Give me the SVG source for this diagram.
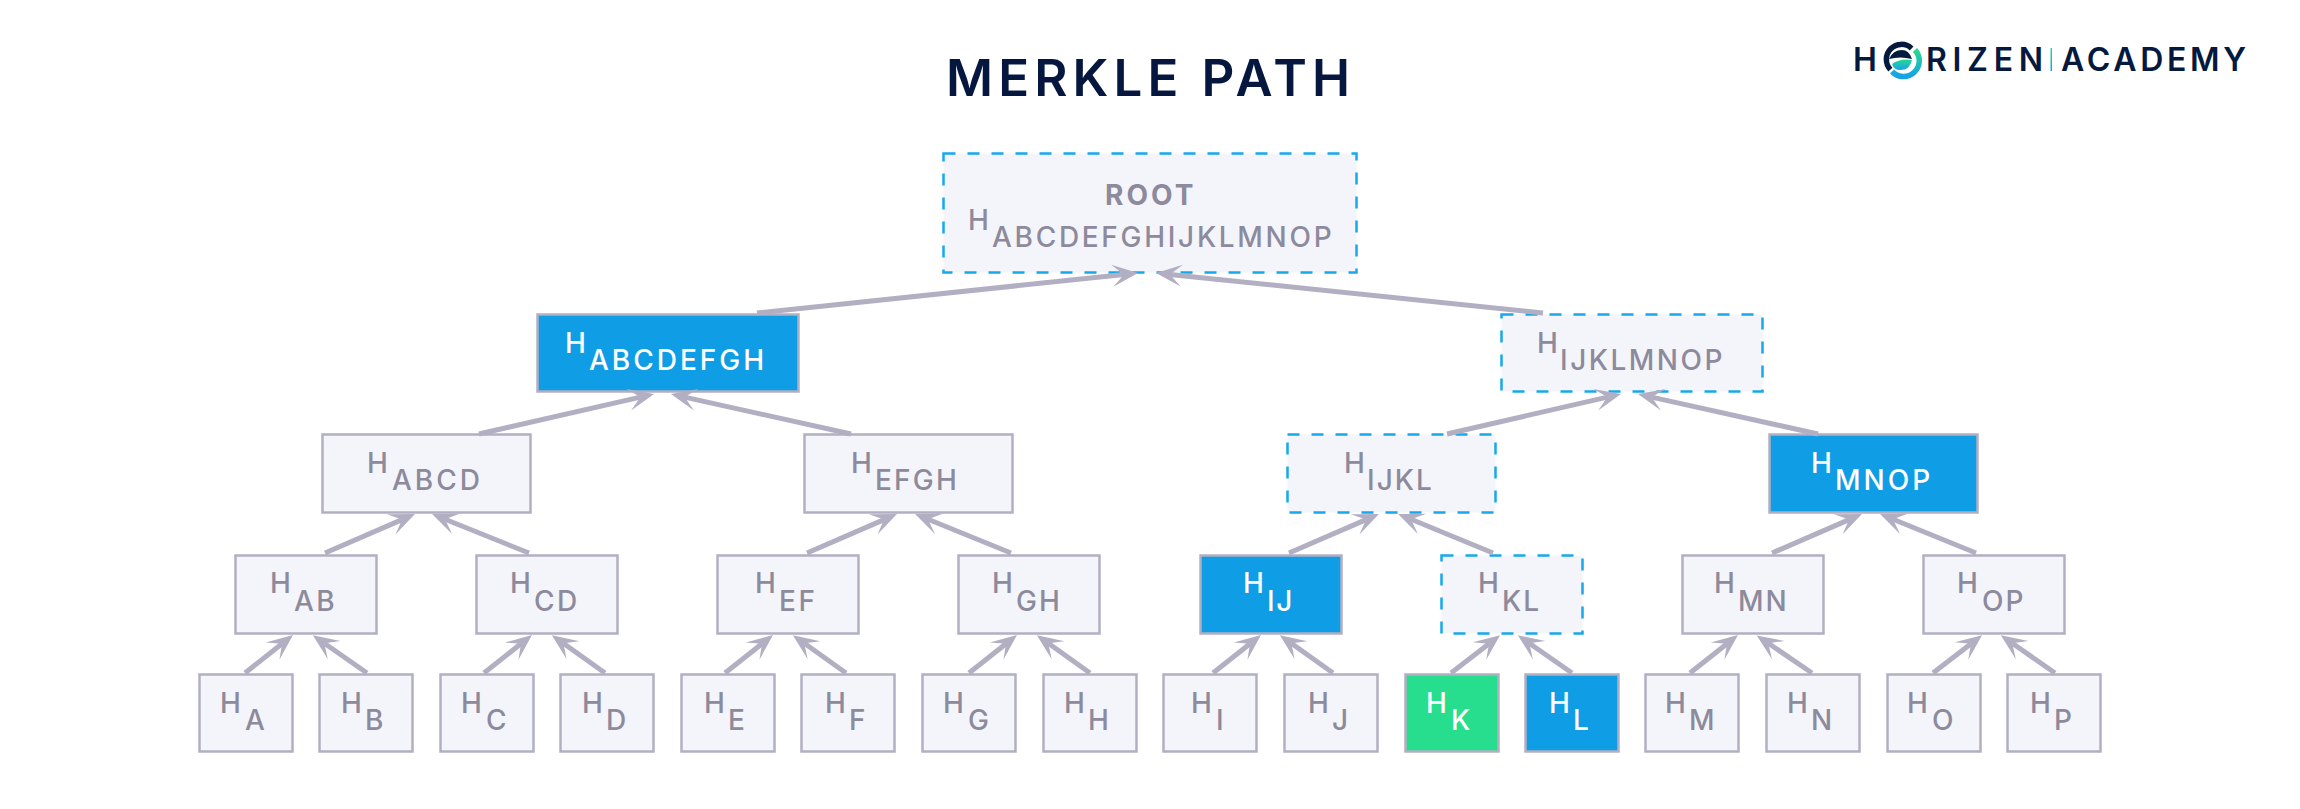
<svg xmlns="http://www.w3.org/2000/svg" width="2300" height="809" viewBox="0 0 2300 809">
<style>
text{font-family:"Inter","Liberation Sans",sans-serif}
.n{fill:#f4f5fa;stroke:#b2afc2;stroke-width:2.5}
.b{fill:#0f9de6;stroke:#b2afc2;stroke-width:2.5}
.g{fill:#27de8e;stroke:#b2afc2;stroke-width:2.5}
.d{fill:#f4f5fa;stroke:#16a8ea;stroke-width:2.5;stroke-dasharray:12 12}
.t{font-size:28px;font-weight:500;fill:#8c8a9c}
.w{font-size:28px;font-weight:500;fill:#ffffff}
.c line{stroke:#b2afc2;stroke-width:5;marker-end:url(#a)}
.l{font-size:32px;font-weight:600;fill:#05193f}
</style>
<defs>
<marker id="a" markerUnits="userSpaceOnUse" viewBox="-3 0 28 28" refX="10" refY="14" markerWidth="28" markerHeight="28" orient="auto"><path d="M24 14L-2 3L10 14L-2 25Z" fill="#b2afc2"/></marker>
<linearGradient id="g1" x1="0" y1="0" x2="0" y2="1"><stop offset="0" stop-color="#26d98f"/><stop offset="1" stop-color="#14a3ea"/></linearGradient>
</defs>
<rect width="2300" height="809" fill="#ffffff"/>
<text id="title" x="946" y="96" font-size="51" font-weight="600" fill="#05173f" textLength="404" lengthAdjust="spacing">MERKLE PATH</text>
<g id="logo">
<text class="l" x="1853" y="71">H</text>
<path d="M1911.6 48.4A15 15 0 0 0 1890.4 69.6" fill="none" stroke="#05193f" stroke-width="5.5"/>
<path d="M1915 50A15 15 0 0 1 1892 71.5" fill="none" stroke="url(#g1)" stroke-width="5.5"/>
<path d="M1889 59Q1893 50 1902 50Q1909 50 1912 59Q1900 56 1889 59Z" fill="#05193f"/>
<path d="M1892 64Q1900 58 1912 60Q1910 70 1900 70Q1894 70 1892 64Z" fill="url(#g1)"/>
<text class="l" x="1926" y="71" textLength="117" lengthAdjust="spacing">RIZEN</text>
<rect x="2050.5" y="48" width="1.5" height="23" fill="url(#g1)"/>
<text class="l" x="2061" y="71" textLength="185" lengthAdjust="spacing">ACADEMY</text>
</g>
<g id="nodes">
<g id="root"><rect class="d" x="943.5" y="153.5" width="413" height="119"/><text class="t" x="1105" y="205" style="font-weight:700" letter-spacing="3">ROOT</text><text class="t"><tspan x="968" y="230">H</tspan><tspan x="992" y="247" letter-spacing="2.7">ABCDEFGHIJKLMNOP</tspan></text></g>
<g id="h-abcdefgh"><rect class="b" x="537.5" y="314.5" width="261" height="77"/><text class="w"><tspan x="565" y="353">H</tspan><tspan x="589" y="370" letter-spacing="3">ABCDEFGH</tspan></text></g>
<g id="h-ijklmnop"><rect class="d" x="1501.5" y="314.5" width="261" height="77"/><text class="t"><tspan x="1537" y="353">H</tspan><tspan x="1560" y="370" letter-spacing="2.5">IJKLMNOP</tspan></text></g>
<g id="h-abcd"><rect class="n" x="322.5" y="434.5" width="208" height="78"/><text class="t"><tspan x="367" y="473">H</tspan><tspan x="392" y="490" letter-spacing="3">ABCD</tspan></text></g>
<g id="h-efgh"><rect class="n" x="804.5" y="434.5" width="208" height="78"/><text class="t"><tspan x="851" y="473">H</tspan><tspan x="875" y="490" letter-spacing="2.2">EFGH</tspan></text></g>
<g id="h-ijkl"><rect class="d" x="1287.5" y="434.5" width="208" height="78"/><text class="t"><tspan x="1344" y="473">H</tspan><tspan x="1367" y="490" letter-spacing="2">IJKL</tspan></text></g>
<g id="h-mnop"><rect class="b" x="1769.5" y="434.5" width="208" height="78"/><text class="w"><tspan x="1811" y="473">H</tspan><tspan x="1835" y="490" letter-spacing="3">MNOP</tspan></text></g>
<g id="h-ab"><rect class="n" x="235.5" y="555.5" width="141" height="78"/><text class="t"><tspan x="270" y="593">H</tspan><tspan x="294" y="611" letter-spacing="2.5">AB</tspan></text></g>
<g id="h-cd"><rect class="n" x="476.5" y="555.5" width="141" height="78"/><text class="t"><tspan x="510" y="593">H</tspan><tspan x="534" y="611" letter-spacing="2.5">CD</tspan></text></g>
<g id="h-ef"><rect class="n" x="717.5" y="555.5" width="141" height="78"/><text class="t"><tspan x="755" y="593">H</tspan><tspan x="779" y="611" letter-spacing="2.5">EF</tspan></text></g>
<g id="h-gh"><rect class="n" x="958.5" y="555.5" width="141" height="78"/><text class="t"><tspan x="992" y="593">H</tspan><tspan x="1016" y="611" letter-spacing="2">GH</tspan></text></g>
<g id="h-ij"><rect class="b" x="1200.5" y="555.5" width="141" height="78"/><text class="w"><tspan x="1243" y="593">H</tspan><tspan x="1267" y="611" letter-spacing="1.5">IJ</tspan></text></g>
<g id="h-kl"><rect class="d" x="1441.5" y="555.5" width="141" height="78"/><text class="t"><tspan x="1478" y="593">H</tspan><tspan x="1502" y="611" letter-spacing="2">KL</tspan></text></g>
<g id="h-mn"><rect class="n" x="1682.5" y="555.5" width="141" height="78"/><text class="t"><tspan x="1714" y="593">H</tspan><tspan x="1738" y="611" letter-spacing="2">MN</tspan></text></g>
<g id="h-op"><rect class="n" x="1923.5" y="555.5" width="141" height="78"/><text class="t"><tspan x="1957" y="593">H</tspan><tspan x="1982" y="611" letter-spacing="2">OP</tspan></text></g>
<g id="h-a"><rect class="n" x="199.5" y="674.5" width="93" height="77"/><text class="t"><tspan x="220" y="713">H</tspan><tspan x="245" y="730">A</tspan></text></g>
<g id="h-b"><rect class="n" x="319.5" y="674.5" width="93" height="77"/><text class="t"><tspan x="341" y="713">H</tspan><tspan x="365" y="730">B</tspan></text></g>
<g id="h-c"><rect class="n" x="440.5" y="674.5" width="93" height="77"/><text class="t"><tspan x="461" y="713">H</tspan><tspan x="486" y="730">C</tspan></text></g>
<g id="h-d"><rect class="n" x="560.5" y="674.5" width="93" height="77"/><text class="t"><tspan x="582" y="713">H</tspan><tspan x="606" y="730">D</tspan></text></g>
<g id="h-e"><rect class="n" x="681.5" y="674.5" width="93" height="77"/><text class="t"><tspan x="704" y="713">H</tspan><tspan x="728" y="730">E</tspan></text></g>
<g id="h-f"><rect class="n" x="801.5" y="674.5" width="93" height="77"/><text class="t"><tspan x="825" y="713">H</tspan><tspan x="849" y="730">F</tspan></text></g>
<g id="h-g"><rect class="n" x="922.5" y="674.5" width="93" height="77"/><text class="t"><tspan x="943" y="713">H</tspan><tspan x="968" y="730">G</tspan></text></g>
<g id="h-h"><rect class="n" x="1043.5" y="674.5" width="93" height="77"/><text class="t"><tspan x="1064" y="713">H</tspan><tspan x="1088" y="730">H</tspan></text></g>
<g id="h-i"><rect class="n" x="1163.5" y="674.5" width="93" height="77"/><text class="t"><tspan x="1191" y="713">H</tspan><tspan x="1216" y="730">I</tspan></text></g>
<g id="h-j"><rect class="n" x="1284.5" y="674.5" width="93" height="77"/><text class="t"><tspan x="1308" y="713">H</tspan><tspan x="1332" y="730">J</tspan></text></g>
<g id="h-k"><rect class="g" x="1405.5" y="674.5" width="93" height="77"/><text class="w"><tspan x="1426" y="713">H</tspan><tspan x="1451" y="730">K</tspan></text></g>
<g id="h-l"><rect class="b" x="1525.5" y="674.5" width="93" height="77"/><text class="w"><tspan x="1549" y="713">H</tspan><tspan x="1573" y="730">L</tspan></text></g>
<g id="h-m"><rect class="n" x="1645.5" y="674.5" width="93" height="77"/><text class="t"><tspan x="1665" y="713">H</tspan><tspan x="1689" y="730">M</tspan></text></g>
<g id="h-n"><rect class="n" x="1766.5" y="674.5" width="93" height="77"/><text class="t"><tspan x="1787" y="713">H</tspan><tspan x="1811" y="730">N</tspan></text></g>
<g id="h-o"><rect class="n" x="1887.5" y="674.5" width="93" height="77"/><text class="t"><tspan x="1907" y="713">H</tspan><tspan x="1932" y="730">O</tspan></text></g>
<g id="h-p"><rect class="n" x="2007.5" y="674.5" width="93" height="77"/><text class="t"><tspan x="2030" y="713">H</tspan><tspan x="2054" y="730">P</tspan></text></g>
</g>
<g id="connectors" class="c">
<line x1="757" y1="313" x2="1124.1" y2="274.5"/>
<line x1="1543" y1="313" x2="1169.9" y2="274.4"/>
<line x1="479" y1="434" x2="640.4" y2="397.1"/>
<line x1="851" y1="434" x2="684.6" y2="397.1"/>
<line x1="1447" y1="434" x2="1607.4" y2="397.1"/>
<line x1="1818" y1="434" x2="1651.6" y2="397.1"/>
<line x1="325" y1="553" x2="402.1" y2="519.6"/>
<line x1="529" y1="553" x2="445" y2="519.3"/>
<line x1="807" y1="553" x2="884.1" y2="519.6"/>
<line x1="1011" y1="553" x2="928" y2="519.3"/>
<line x1="1289" y1="553" x2="1366.1" y2="519.6"/>
<line x1="1493" y1="553" x2="1411" y2="519.3"/>
<line x1="1772" y1="553" x2="1849.1" y2="519.6"/>
<line x1="1976" y1="553" x2="1893" y2="519.3"/>
<line x1="245" y1="673" x2="282" y2="643.7"/>
<line x1="367" y1="673" x2="324.3" y2="643.3"/>
<line x1="484" y1="673" x2="521" y2="643.7"/>
<line x1="605" y1="673" x2="563.3" y2="643.3"/>
<line x1="725" y1="673" x2="762" y2="643.7"/>
<line x1="846" y1="673" x2="804.3" y2="643.3"/>
<line x1="969" y1="673" x2="1006" y2="643.7"/>
<line x1="1090" y1="673" x2="1048.3" y2="643.3"/>
<line x1="1213" y1="673" x2="1250" y2="643.7"/>
<line x1="1333" y1="673" x2="1291.3" y2="643.3"/>
<line x1="1451" y1="673" x2="1489" y2="643.7"/>
<line x1="1572" y1="673" x2="1529.3" y2="643.3"/>
<line x1="1690" y1="673" x2="1727" y2="643.7"/>
<line x1="1812" y1="673" x2="1768.3" y2="643.3"/>
<line x1="1933" y1="673" x2="1971" y2="643.7"/>
<line x1="2055" y1="673" x2="2012.3" y2="643.3"/>
</g>
</svg>
